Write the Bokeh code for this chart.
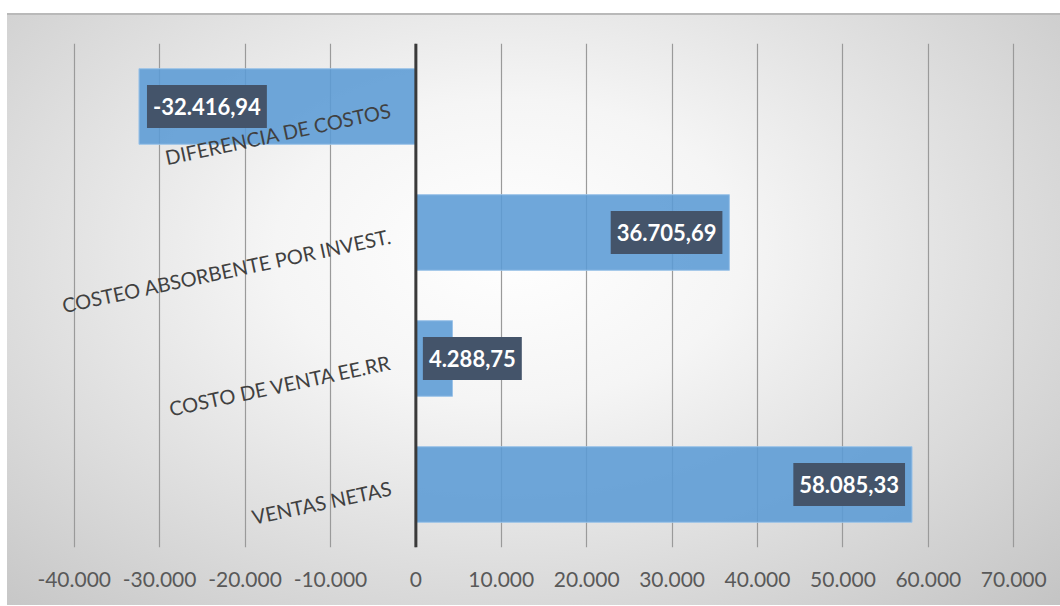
import math
from bokeh.plotting import figure
from bokeh.models import ColumnDataSource, FactorRange, Span, FixedTicker
from bokeh.core.properties import value
from bokeh.embed import file_html
from bokeh.resources import INLINE

# ---- data ----
categories = ["DIFERENCIA DE COSTOS", "COSTEO ABSORBENTE POR INVEST.",
              "COSTO DE VENTA EE.RR", "VENTAS NETAS"]
amounts = [-32416.94, 36705.69, 4288.75, 58085.33]
tick_values = [-40000, -30000, -20000, -10000, 0, 10000, 20000, 30000, 40000, 50000, 60000, 70000]
tick_labels = ["-40.000", "-30.000", "-20.000", "-10.000", "0", "10.000", "20.000",
               "30.000", "40.000", "50.000", "60.000", "70.000"]


def fmt(v):
    s = f"{v:,.2f}"
    return s.replace(",", "#").replace(".", ",").replace("#", ".")


labels = [fmt(v) for v in amounts]

# label placement: inside end if the bar is long enough, otherwise at the base
aligns, xs, offs = [], [], []
for v in amounts:
    if abs(v) >= 15000:
        xs.append(v)
        if v >= 0:
            aligns.append("right"); offs.append(-7)
        else:
            aligns.append("left"); offs.append(8)
    else:
        xs.append(0)
        aligns.append("left" if v >= 0 else "right"); offs.append(7 if v >= 0 else -7)

src = ColumnDataSource(dict(cat=categories, amt=amounts, lab=labels,
                            lx=xs, la=aligns, lo=offs))

# the frame is extended to the left (no gridline there) so the rotated labels are not clipped
p = figure(width=1060, height=592,
           y_range=FactorRange(factors=list(reversed(categories))),
           x_range=(-45000, 70200),
           output_backend="svg", toolbar_location=None,
           min_border_left=31, min_border_right=45, min_border_top=30, min_border_bottom=58)

p.styles = {
    "margin-top": "13px",
    "background": "linear-gradient(to right, #ffffff 7px, transparent 7px), "
                  "linear-gradient(#b9b9b9,#b9b9b9) top left / 100% 2px no-repeat, "
                  "radial-gradient(farthest-corner at 48% 40%, #ffffff 0%, #f5f5f5 30%, #c4c4c4 100%)",
}
p.background_fill_alpha = 0
p.border_fill_alpha = 0
p.outline_line_color = None

p.hbar(y="cat", right="amt", left=0, height=0.6, source=src,
       fill_color="#5B9BD5", fill_alpha=0.88, line_color="#9cc3e8", line_width=1)

p.add_layout(Span(location=0, dimension="height", line_color="#3a3a3a", line_width=3))

# category labels (rotated, next to the zero axis)
p.text(x=0, y="cat", text="cat", source=src, angle=math.radians(12),
       text_align="right", text_baseline="middle", x_offset=-25, y_offset=3,
       text_font=value("Lato"), text_font_size="20px", text_color="#404040")

# data labels with dark boxes
p.text(x="lx", y="cat", text="lab", source=src, text_align="la", x_offset="lo",
       text_baseline="middle",
       text_font=value("Lato"), text_font_style="bold", text_font_size="22px",
       text_color="white", background_fill_color="#44546A",
       padding=dict(left=6, right=6, top=13, bottom=13))

p.yaxis.visible = False
p.ygrid.grid_line_color = None
p.xgrid.grid_line_color = "#9a9a9a"
p.xgrid.grid_line_width = 1.2

p.xaxis.ticker = FixedTicker(ticks=tick_values)
p.xaxis.major_label_overrides = {t: l for t, l in zip(tick_values, tick_labels)}
p.xaxis.axis_line_color = None
p.xaxis.major_tick_line_color = None
p.xaxis.minor_tick_line_color = None
p.xaxis.major_tick_out = 0
p.xaxis.major_tick_in = 0
p.xaxis.major_label_standoff = 24
p.xaxis.major_label_text_font = "Lato"
p.xaxis.major_label_text_font_size = "21px"
p.xaxis.major_label_text_color = "#595959"

open("out.html", "w").write(file_html(p, INLINE))
